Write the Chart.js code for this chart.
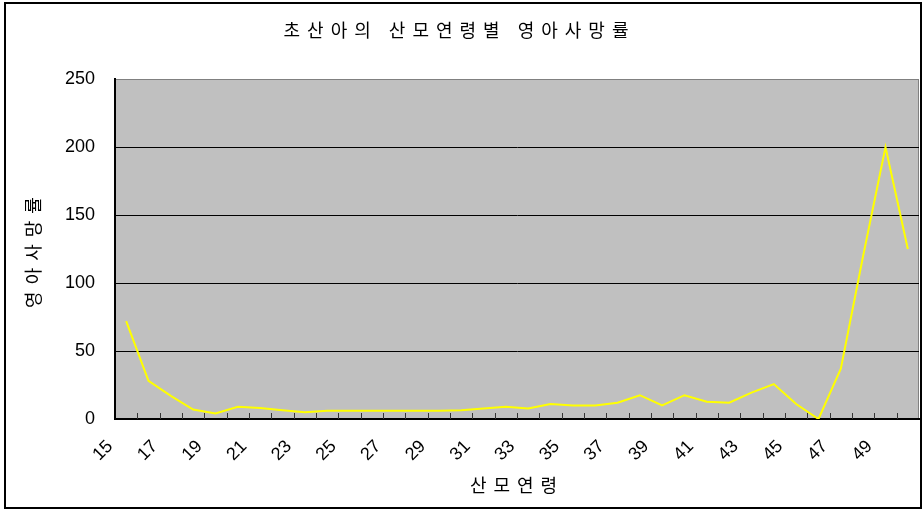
<!DOCTYPE html>
<html>
<head>
<meta charset="utf-8">
<script src="https://cdn.jsdelivr.net/npm/chart.js@4.4.1/dist/chart.umd.min.js"></script>
<style>
  body { margin: 0; background: #fff; }
  canvas { display: block; }
</style>
</head>
<body>
<canvas id="chart" width="924" height="510"></canvas>
<script>
// 산모연령 15 ~ 50
const ages = ['15', '16', '17', '18', '19', '20', '21', '22', '23', '24', '25', '26',
  '27', '28', '29', '30', '31', '32', '33', '34', '35', '36', '37', '38',
  '39', '40', '41', '42', '43', '44', '45', '46', '47', '48', '49', '50'];

// 영아사망률
const rates = [72, 28, 17, 7, 4, 9, 8, 6.5, 5, 6, 6, 6,
  6, 6, 6, 6.5, 7.8, 9, 7.8, 11, 10, 10, 12, 17.5,
  10, 17.5, 12.7, 12, 19.4, 25.7, 11, 0, 37, 120, 200, 125];

const yTicks = [0, 50, 100, 150, 200, 250];

const chartTitle = '초산아의 산모연령별 영아사망률';
const xTitle = '산모연령';
const yTitle = '영아사망률';

const korFont = "'Noto Sans CJK KR', 'Noto Sans', sans-serif";
const numFont = "'Liberation Sans', Arial, sans-serif";

// grey plot area, outer frame, spaced titles, inward category ticks
const framePlugin = {
  id: 'frame',
  beforeDraw(chart) {
    const { ctx, chartArea: a } = chart;
    ctx.save();
    ctx.fillStyle = '#fff';
    ctx.fillRect(0, 0, chart.width, chart.height);
    ctx.strokeStyle = '#000';
    ctx.lineWidth = 2;
    ctx.strokeRect(5, 3, 916, 505);
    ctx.fillStyle = '#c0c0c0';
    ctx.fillRect(a.left, a.top, a.right - a.left, a.bottom - a.top);
    ctx.strokeStyle = '#808080';
    ctx.lineWidth = 1;
    ctx.beginPath();
    ctx.moveTo(a.left, a.top + 0.5);
    ctx.lineTo(a.right - 0.5, a.top + 0.5);
    ctx.lineTo(a.right - 0.5, a.bottom);
    ctx.stroke();
    ctx.restore();
    // titles get wide letter spacing, tick labels do not (they are drawn later, z: 1)
    ctx.letterSpacing = '7px';
  },
  beforeDatasetsDraw(chart) {
    const { ctx, chartArea: a } = chart;
    ctx.letterSpacing = '0px';
    const x = chart.scales.x;
    ctx.save();
    ctx.strokeStyle = '#333';
    ctx.lineWidth = 1;
    ctx.beginPath();
    for (let i = 1; i < ages.length; i++) {
      const px = Math.round(x.getPixelForValue(i - 0.5)) + 0.5;
      ctx.moveTo(px, a.bottom);
      ctx.lineTo(px, a.bottom - 6);
    }
    ctx.stroke();
    ctx.restore();
  }
};

new Chart(document.getElementById('chart'), {
  type: 'line',
  data: {
    labels: ages,
    datasets: [{
      label: yTitle,
      data: rates,
      borderColor: '#ffff00',
      borderWidth: 2,
      pointRadius: 0,
      tension: 0,
      fill: false
    }]
  },
  options: {
    responsive: false,
    animation: false,
    layout: { padding: { left: 0, right: 5, top: 0, bottom: 0 } },
    plugins: {
      legend: { display: false },
      tooltip: { enabled: false },
      title: {
        display: true,
        text: chartTitle,
        color: '#000',
        font: { family: korFont, size: 18, weight: 'normal', lineHeight: 1.2 },
        padding: { top: 19.5, bottom: 37.9 }
      }
    },
    scales: {
      x: {
        offset: true,
        afterFit: (s) => {
          s.height = 91;
          s.paddingLeft = 0;
          s.paddingRight = 0;
        },
        grid: { display: true, drawOnChartArea: false, drawTicks: false },
        border: { display: true, color: '#000', width: 2 },
        ticks: {
          z: 1,
          autoSkip: false,
          minRotation: 45,
          maxRotation: 45,
          padding: 17,
          labelOffset: -16,
          color: '#000',
          font: { family: numFont, size: 18 },
          callback: (v, i) => (i % 2 === 0 ? ages[i] : '')
        },
        title: {
          display: true,
          text: xTitle,
          color: '#000',
          font: { family: korFont, size: 18, lineHeight: 1.2 },
          padding: { top: 0, bottom: 14 }
        }
      },
      y: {
        min: yTicks[0],
        max: yTicks[yTicks.length - 1],
        afterFit: (s) => {
          s.width = 115;
          s.paddingTop = 0;
          s.paddingBottom = 0;
        },
        afterBuildTicks: (s) => { s.ticks = yTicks.map(v => ({ value: v })); },
        grid: {
          color: (c) => (c.tick && c.tick.value === 250 ? '#808080' : '#000'),
          lineWidth: 1,
          drawTicks: false
        },
        border: { display: true, color: '#000', width: 2 },
        ticks: {
          z: 1,
          padding: 20,
          color: '#000',
          font: { family: numFont, size: 18 }
        },
        title: {
          display: true,
          text: yTitle,
          color: '#000',
          font: { family: korFont, size: 18, lineHeight: 1.2 },
          padding: { top: 22, bottom: 0 }
        }
      }
    }
  },
  plugins: [framePlugin]
});
</script>
</body>
</html>
